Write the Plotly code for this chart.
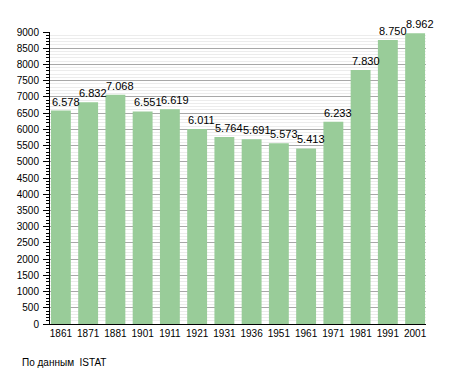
import plotly.graph_objects as go

years = ["1861", "1871", "1881", "1901", "1911", "1921", "1931", "1936", "1951", "1961", "1971", "1981", "1991", "2001"]
population = [6578, 6832, 7068, 6551, 6619, 6011, 5764, 5691, 5573, 5413, 6233, 7830, 8750, 8962]
labels = [f"{v:,}".replace(",", ".") for v in population]
source_note = "По данным  ISTAT"

fig = go.Figure(go.Bar(
    x=years, y=population,
    marker=dict(color="#99cc99", line=dict(width=0)),
    hoverinfo="skip",
))

annotations = [dict(x=i, y=v, text=t, xref="x", yref="y", xanchor="left", yanchor="bottom",
                    xshift=-11, yshift=1, showarrow=False, font=dict(size=11, color="black"))
               for i, (v, t) in enumerate(zip(population, labels))]
annotations.append(dict(text=source_note, x=-30/376, y=-38/292, xref="paper", yref="paper",
                        xanchor="left", yanchor="middle", showarrow=False, font=dict(size=10)))

fig.update_layout(
    width=455, height=373,
    margin=dict(l=50, r=29, t=32, b=49, autoexpand=False),
    paper_bgcolor="white", plot_bgcolor="white",
    font=dict(family="Liberation Sans, Arial, sans-serif", size=10, color="black"),
    bargap=0.27, showlegend=False,
    annotations=annotations,
)

fig.update_xaxes(
    type="category", range=[-0.4, 13.4], showgrid=False, automargin=False,
    showline=True, linecolor="black", linewidth=1, ticks="", ticklabelstandoff=0,
)
fig.update_yaxes(
    range=[0, 9000], dtick=500, tick0=0, automargin=False,
    showgrid=True, gridcolor="#a8a8a8", gridwidth=1,
    showline=True, linecolor="black", linewidth=1,
    ticks="outside", ticklen=6, tickcolor="black", ticklabelstandoff=2,
    zeroline=False,
    minor=dict(dtick=100, showgrid=True, gridcolor="#ececec", ticks="outside", ticklen=3, tickcolor="black"),
)

fig.write_html("out.html", config={"displayModeBar": False},
               post_script="document.body.style.margin='0';")
